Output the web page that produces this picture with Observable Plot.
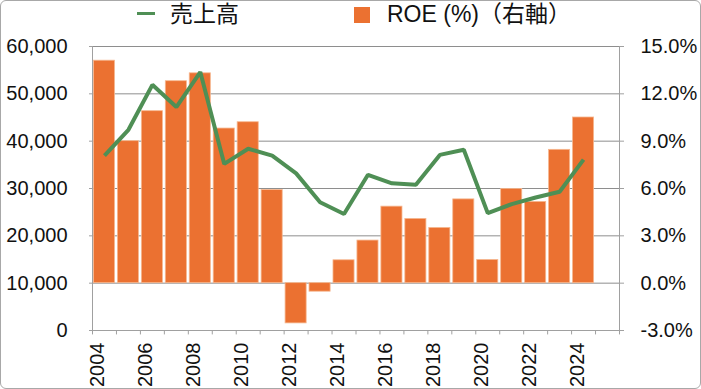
<!DOCTYPE html>
<html>
<head>
<meta charset="utf-8">
<script src="https://cdn.jsdelivr.net/npm/d3@7"></script>
<script src="https://cdn.jsdelivr.net/npm/@observablehq/plot@0.6"></script>
<style>
  html, body { margin: 0; padding: 0; background: #fff; }
  #wrap { position: relative; width: 701px; height: 389px; overflow: hidden; background: #fff; }
  #legend { position: relative; width: 701px; height: 40px; font-family: "Liberation Sans", Arial, "Noto Sans CJK JP", sans-serif; font-size: 23px; color: #111; }
  #legend .sw-line { position: absolute; left: 137px; top: 12px; width: 18px; height: 3px; }
  #legend .sw-box { position: absolute; left: 354px; top: 7px; width: 16px; height: 16px; }
  #legend .lbl { position: absolute; top: 0; line-height: 28px; white-space: nowrap; }
  #frame { position: absolute; left: 0; top: 0; width: 699px; height: 387px; border: 1px solid #a8a8a8; border-radius: 6px; pointer-events: none; }
  svg { display: block; }
</style>
</head>
<body>
<div id="wrap">
  <div id="legend"></div>
  <div id="chart"></div>
  <div id="frame"></div>
</div>
<script>
// ---- data ----
const years = ["2004","2005","2006","2007","2008","2009","2010","2011","2012","2013","2014",
               "2015","2016","2017","2018","2019","2020","2021","2022","2023","2024"];
const sales = [36950, 42400, 51900, 47200, 54600, 35200, 38400, 36950, 33200, 27100, 24600,
               32900, 31100, 30800, 37100, 38200, 24800, 26700, 28100, 29300, 36100];
const roe   = [14.1, 9.0, 10.9, 12.8, 13.3, 9.8, 10.2, 5.9, -2.55, -0.54, 1.45,
               2.7, 4.85, 4.07, 3.5, 5.31, 1.47, 5.97, 5.15, 8.45, 10.5];
const xDomain = [...years, "2025"];             // one empty slot at the right, as in the reference
const xTickLabels = xDomain.filter((d, i) => i % 2 === 0);
const roeTicks = [-3, 0, 3, 6, 9, 12, 15];       // right axis (%)
const salesMax = 60000;                          // left axis spans 0 … 60,000
const legendSales = "売上高";
const legendRoe = "ROE (%)（右軸）";

const ORANGE = "#eb7131";
const GREEN = "#4f8f55";

// sales mapped onto the ROE (right) scale: 0 → -3, 60000 → 15
const roeMin = roeTicks[0], roeMax = roeTicks[roeTicks.length - 1];
const toRoe = s => roeMin + (s / salesMax) * (roeMax - roeMin);
const toSales = r => (r - roeMin) / (roeMax - roeMin) * salesMax;

const rows = years.map((y, i) => ({year: y, sales: sales[i], roe: roe[i], s: toRoe(sales[i])}));

// ---- legend ----
const lg = document.getElementById("legend");
lg.innerHTML = `
  <div class="sw-line" style="background:${GREEN}"></div>
  <div class="lbl" style="left:170px">${legendSales}</div>
  <div class="sw-box" style="background:${ORANGE}"></div>
  <div class="lbl" style="left:387px">${legendRoe}</div>`;

// ---- chart ----
const W = 701, H = 349;
const mL = 92, mR = 82, mT = 6, mB = 59;
const step = (W - mL - mR) / xDomain.length;

const chart = Plot.plot({
  width: W, height: H,
  marginLeft: mL, marginRight: mR, marginTop: mT, marginBottom: mB,
  style: {fontSize: "20px", fontFamily: "'Liberation Sans', Arial, sans-serif", color: "#111", background: "#fff", overflow: "visible"},
  x: {type: "band", domain: xDomain, paddingInner: 0.12, paddingOuter: 0.06, round: false, axis: null},
  y: {domain: [roeMin, roeMax], axis: null},
  marks: [
    // gridlines
    Plot.ruleY(roeTicks, {stroke: "#8e8e8e", strokeWidth: 1}),
    // left & right axis lines
    Plot.ruleX([xDomain[0]], {dx: -step / 2, y1: roeMin, y2: roeMax, stroke: "#a0a0a0"}),
    Plot.ruleX([xDomain[xDomain.length - 1]], {dx: step / 2, y1: roeMin, y2: roeMax, stroke: "#a0a0a0"}),
    // bars (ROE)
    Plot.barY(rows, {x: "year", y1: 0, y2: "roe", fill: ORANGE, stroke: "#f6b78f", strokeWidth: 0.8}),
    // bottom axis line
    Plot.ruleY([roeMin], {stroke: "#a0a0a0"}),
    // x ticks at band boundaries
    Plot.ruleX(xDomain, {x: d => d, dx: step / 2, y1: roeMin, y2: roeMin - 0.28, stroke: "#a0a0a0"}),
    Plot.ruleX([xDomain[0]], {dx: -step / 2, y1: roeMin, y2: roeMin - 0.28, stroke: "#a0a0a0"}),
    // x labels
    Plot.text(xTickLabels, {x: d => d, frameAnchor: "bottom", dy: 12, rotate: -90, textAnchor: "end", text: d => d, fill: "#111", fontSize: 20}),
    // left axis (sales)
    Plot.axisY(roeTicks, {anchor: "left", tickSize: 3, tickPadding: 22, stroke: "#a0a0a0", fill: "#111", fontSize: 20,
      tickFormat: t => d3.format(",")(Math.round(toSales(t))), label: null}),
    // right axis (ROE %)
    Plot.axisY(roeTicks, {anchor: "right", tickSize: 4, tickPadding: 17, stroke: "#a0a0a0", fill: "#111", fontSize: 20,
      tickFormat: t => d3.format(".1f")(t).replace("\u2212", "-") + "%", label: null}),
    // sales line
    Plot.line(rows, {x: "year", y: "s", stroke: GREEN, strokeWidth: 4, strokeLinejoin: "miter", strokeLinecap: "butt"})
  ]
});
document.getElementById("chart").appendChild(chart);
</script>
</body>
</html>
